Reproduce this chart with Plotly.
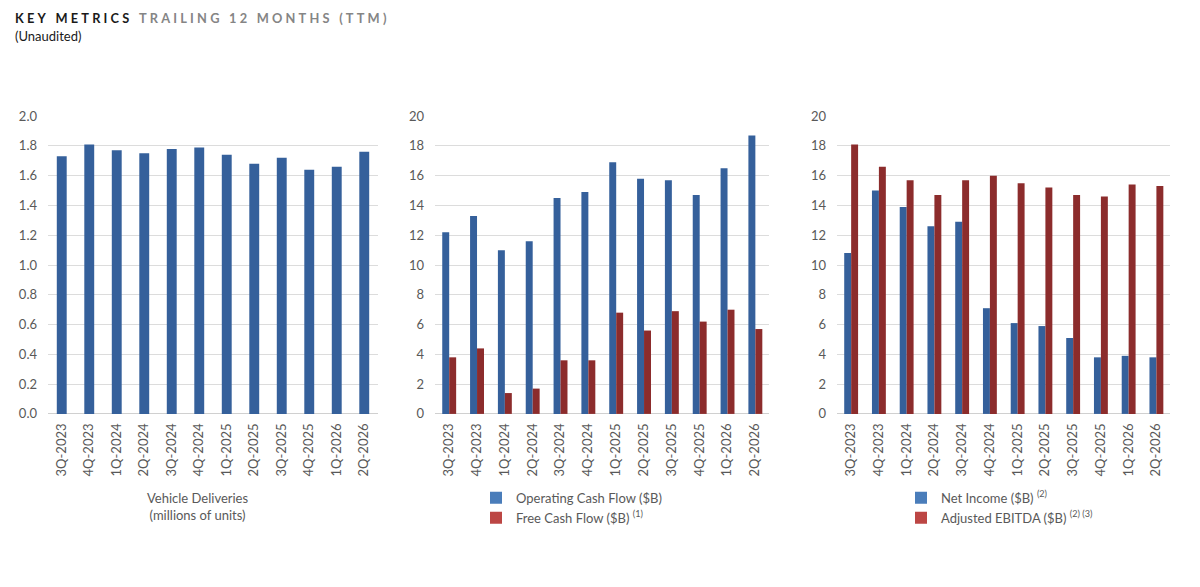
import plotly.graph_objects as go

quarters = ["3Q-2023", "4Q-2023", "1Q-2024", "2Q-2024", "3Q-2024", "4Q-2024",
            "1Q-2025", "2Q-2025", "3Q-2025", "4Q-2025", "1Q-2026", "2Q-2026"]
deliveries = [1.73, 1.81, 1.77, 1.75, 1.78, 1.79, 1.74, 1.68, 1.72, 1.64, 1.66, 1.76]
operating_cf = [12.2, 13.3, 11.0, 11.6, 14.5, 14.9, 16.9, 15.8, 15.7, 14.7, 16.5, 18.7]
free_cf = [3.8, 4.4, 1.4, 1.7, 3.6, 3.6, 6.8, 5.6, 6.9, 6.2, 7.0, 5.7]
net_income = [10.8, 15.0, 13.9, 12.6, 12.9, 7.1, 6.1, 5.9, 5.1, 3.8, 3.9, 3.8]
adj_ebitda = [18.1, 16.6, 15.7, 14.7, 15.7, 16.0, 15.5, 15.2, 14.7, 14.6, 15.4, 15.3]

BLUE = "#35609B"
RED = "#8C2C2C"
LEG_BLUE = "#4A7DBA"
LEG_RED = "#BC4644"
FONT = "Lato"
GRAY = "#595959"

W, H = 1200, 587


def py(y):
    # pixel row (from top) -> paper fraction, compensating the page offset
    return 1 - (y * 603 / 587 - 8) / H


fig = go.Figure()

fig.add_trace(go.Bar(x=quarters, y=deliveries, xaxis="x", yaxis="y",
                     marker=dict(color=BLUE, line=dict(width=0)), width=0.36, showlegend=False))

fig.add_trace(go.Bar(x=quarters, y=operating_cf, xaxis="x2", yaxis="y2",
                     marker=dict(color=BLUE, line=dict(width=0)), width=0.25, offset=-0.24,
                     showlegend=False))
fig.add_trace(go.Bar(x=quarters, y=free_cf, xaxis="x2", yaxis="y2",
                     marker=dict(color=RED, line=dict(width=0)), width=0.25, offset=0.01,
                     showlegend=False))

fig.add_trace(go.Bar(x=quarters, y=net_income, xaxis="x3", yaxis="y3",
                     marker=dict(color=BLUE, line=dict(width=0)), width=0.25, offset=-0.24,
                     showlegend=False))
fig.add_trace(go.Bar(x=quarters, y=adj_ebitda, xaxis="x3", yaxis="y3",
                     marker=dict(color=RED, line=dict(width=0)), width=0.25, offset=0.01,
                     showlegend=False))

# legend entries (swatches)
legend_items = [
    ("Operating Cash Flow ($B)", LEG_BLUE, "legend", "x2", "y2"),
    ("Free Cash Flow ($B) <sup>(1)</sup>", LEG_RED, "legend", "x2", "y2"),
    ("Net Income ($B) <sup>(2)</sup>", LEG_BLUE, "legend2", "x3", "y3"),
    ("Adjusted EBITDA ($B) <sup>(2) (3)</sup>", LEG_RED, "legend2", "x3", "y3"),
]
for name, col, leg, xa, ya in legend_items:
    fig.add_trace(go.Bar(x=[None], y=[None], xaxis=xa, yaxis=ya, name=name,
                         marker=dict(color=col, line=dict(width=0)), legend=leg,
                         showlegend=True))

ydom = [py(414), py(116)]


def xaxis(x0, x1, anchor):
    return dict(domain=[x0 / W, x1 / W], anchor=anchor, tickangle=-90,
                tickfont=dict(family=FONT, size=13, color=GRAY),
                ticklabelstandoff=6,
                showgrid=False, showline=False, ticks="", zeroline=False)


def yaxis(anchor, rng, dt):
    return dict(domain=ydom, anchor=anchor, range=rng, dtick=dt,
                tickformat=".1f" if dt < 1 else "d",
                showgrid=True, gridcolor="#DCDCDC", gridwidth=1,
                zeroline=True, zerolinecolor="#D0D0D0", zerolinewidth=1,
                showline=False, ticks="", ticklabelstandoff=10,
                tickfont=dict(family=FONT, size=13, color=GRAY))


def spaced(s):
    gap = "\u2009\u2009"
    return gap.join(list(s)).replace(gap + " " + gap, gap * 3)


fig.update_layout(
    width=W, height=H,
    margin=dict(l=0, r=0, t=0, b=0),
    paper_bgcolor="white", plot_bgcolor="white",
    barmode="group",
    xaxis=xaxis(48, 378, "y"),
    yaxis=yaxis("x", [0, 2.0], 0.2),
    xaxis2=xaxis(435, 769, "y2"),
    yaxis2=yaxis("x2", [0, 20], 2),
    xaxis3=xaxis(837, 1170, "y3"),
    yaxis3=yaxis("x3", [0, 20], 2),
    legend=dict(x=476 / W, y=py(483), xanchor="left", yanchor="top",
                font=dict(family=FONT, size=13, color=GRAY),
                itemwidth=30, tracegroupgap=0, bgcolor="rgba(0,0,0,0)"),
    legend2=dict(x=901 / W, y=py(483), xanchor="left", yanchor="top",
                 font=dict(family=FONT, size=13, color=GRAY),
                 itemwidth=30, tracegroupgap=0, bgcolor="rgba(0,0,0,0)"),
    annotations=[
        dict(text="<b>" + spaced("KEY METRICS") + "</b>\u2009\u2009\u2009\u2009\u2009\u2009"
                  + "<b><span style='color:#858585'>" + spaced("TRAILING 12 MONTHS (TTM)") + "</span></b>",
             x=13 / W, y=py(18), xref="paper", yref="paper",
             xanchor="left", yanchor="middle", showarrow=False,
             font=dict(family=FONT, size=12.8, color="#1A1A1A")),
        dict(text="(Unaudited)", x=13 / W, y=py(36), xref="paper", yref="paper",
             xanchor="left", yanchor="middle", showarrow=False,
             font=dict(family=FONT, size=13, color="#1A1A1A")),
        dict(text="Vehicle Deliveries<br>(millions of units)", x=197 / W, y=py(507),
             xref="paper", yref="paper", xanchor="center", yanchor="middle",
             showarrow=False, align="center",
             font=dict(family=FONT, size=13, color=GRAY)),
    ],
)

fig.write_html("out.html")
